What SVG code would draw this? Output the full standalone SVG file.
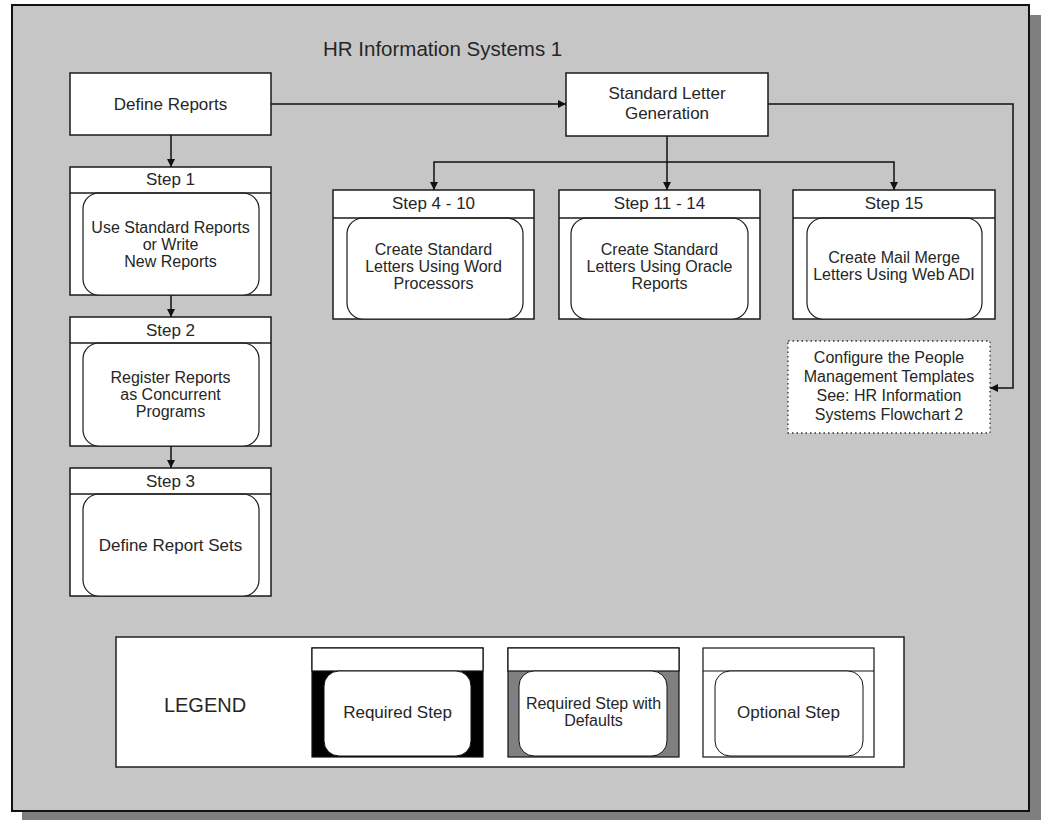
<svg xmlns="http://www.w3.org/2000/svg" width="1041" height="820" viewBox="0 0 1041 820">
<style>
text{font-family:"Liberation Sans",Arial,sans-serif;fill:#262626;text-anchor:middle;font-size:17px}
.box{fill:#fff;stroke:#1a1a1a;stroke-width:1.5}
.inner{fill:#fff;stroke:#1a1a1a;stroke-width:1.2}
.hdr{stroke:#1a1a1a;stroke-width:1.5}
.conn{fill:none;stroke:#111;stroke-width:1.5}
.dot{fill:#fff;stroke:#333;stroke-width:1.3;stroke-dasharray:1.5 3}
.sm{font-size:16px}
.ml{font-size:16px}
</style>
<defs>
<marker id="arr" viewBox="0 0 10 10" refX="10" refY="5" markerWidth="8" markerHeight="8" markerUnits="userSpaceOnUse" orient="auto">
<path d="M0,0 L10,5 L0,10 z" fill="#111"/>
</marker>
</defs>
<rect width="1041" height="820" fill="#fff"/>
<rect x="22" y="15" width="1022" height="810" fill="#7f7f7f"/>
<rect x="12" y="5" width="1017" height="806" fill="#c6c6c6" stroke="#111" stroke-width="2"/>
<text x="323" y="56" style="text-anchor:start;font-size:20.5px">HR Information Systems 1</text>

<g id="connectors">
<path class="conn" d="M171,135 V167" marker-end="url(#arr)"/>
<path class="conn" d="M171,295 V317" marker-end="url(#arr)"/>
<path class="conn" d="M171,446 V468" marker-end="url(#arr)"/>
<path class="conn" d="M271,104 H566" marker-end="url(#arr)"/>
<path class="conn" d="M667,136 V190" marker-end="url(#arr)"/>
<path class="conn" d="M667,162 H434 V190" marker-end="url(#arr)"/>
<path class="conn" d="M667,162 H894 V190" marker-end="url(#arr)"/>
<path class="conn" d="M768,104 H1013 V388 H990" marker-end="url(#arr)"/>
</g>

<g id="define-reports">
<rect class="box" x="70" y="73" width="201" height="62"/>
<text x="170.5" y="110">Define Reports</text>
</g>

<g id="step1">
<rect class="box" x="70" y="167" width="201" height="128"/>
<rect class="inner" x="83" y="193" width="176" height="102" rx="16"/>
<line class="hdr" x1="70" y1="193" x2="271" y2="193"/>
<text x="170.5" y="185">Step 1</text>
<text class="ml" x="170.5" y="232.5">Use Standard Reports</text>
<text class="ml" x="170.5" y="249.5">or Write</text>
<text class="ml" x="170.5" y="266.5">New Reports</text>
</g>

<g id="step2">
<rect class="box" x="70" y="317" width="201" height="129"/>
<rect class="inner" x="83" y="343" width="176" height="103" rx="16"/>
<line class="hdr" x1="70" y1="343" x2="271" y2="343"/>
<text x="170.5" y="336">Step 2</text>
<text class="ml" x="170.5" y="382.5">Register Reports</text>
<text class="ml" x="170.5" y="399.5">as Concurrent</text>
<text class="ml" x="170.5" y="416.5">Programs</text>
</g>

<g id="step3">
<rect class="box" x="70" y="468" width="201" height="128"/>
<rect class="inner" x="83" y="494" width="176" height="102" rx="16"/>
<line class="hdr" x1="70" y1="494" x2="271" y2="494"/>
<text x="170.5" y="487">Step 3</text>
<text x="170.5" y="551">Define Report Sets</text>
</g>

<g id="standard-letter-generation">
<rect class="box" x="566" y="73" width="202" height="63"/>
<text x="667" y="98.5">Standard Letter</text>
<text x="667" y="119">Generation</text>
</g>

<g id="step4-10">
<rect class="box" x="333" y="190" width="201" height="129"/>
<rect class="inner" x="347" y="218" width="176" height="101" rx="16"/>
<line class="hdr" x1="333" y1="218" x2="534" y2="218"/>
<text x="433.5" y="209">Step 4 - 10</text>
<text class="ml" x="433.5" y="254.5">Create Standard</text>
<text class="ml" x="433.5" y="271.5">Letters Using Word</text>
<text class="ml" x="433.5" y="288.5">Processors</text>
</g>

<g id="step11-14">
<rect class="box" x="559" y="190" width="201" height="129"/>
<rect class="inner" x="571" y="218" width="177" height="101" rx="16"/>
<line class="hdr" x1="559" y1="218" x2="760" y2="218"/>
<text x="659.5" y="209">Step 11 - 14</text>
<text class="ml" x="659.5" y="254.5">Create Standard</text>
<text class="ml" x="659.5" y="271.5">Letters Using Oracle</text>
<text class="ml" x="659.5" y="288.5">Reports</text>
</g>

<g id="step15">
<rect class="box" x="793" y="190" width="202" height="129"/>
<rect class="inner" x="807" y="218" width="175" height="101" rx="16"/>
<line class="hdr" x1="793" y1="218" x2="995" y2="218"/>
<text x="894" y="209">Step 15</text>
<text class="ml" x="894" y="263">Create Mail Merge</text>
<text class="ml" x="894" y="280">Letters Using Web ADI</text>
</g>

<g id="people-management">
<rect class="dot" x="788" y="341" width="202" height="92"/>
<text class="sm" x="889" y="363">Configure the People</text>
<text class="sm" x="889" y="382">Management Templates</text>
<text class="sm" x="889" y="401">See: HR Information</text>
<text class="sm" x="889" y="420">Systems Flowchart 2</text>
</g>

<g id="legend">
<rect x="116" y="637" width="788" height="130" fill="#fff" stroke="#222" stroke-width="1.5"/>
<text x="205" y="712" style="font-size:20px">LEGEND</text>
<g id="legend-required">
<rect x="312" y="648" width="171" height="109" fill="#000" stroke="#111" stroke-width="1.2"/>
<rect x="312" y="648" width="171" height="23" fill="#fff" stroke="#111" stroke-width="1.2"/>
<rect x="324" y="671" width="147" height="85" rx="15" fill="#fff" stroke="#111" stroke-width="1"/>
<text x="397.5" y="718">Required Step</text>
</g>
<g id="legend-defaults">
<rect x="508" y="648" width="171" height="109" fill="#808080" stroke="#111" stroke-width="1.2"/>
<rect x="508" y="648" width="171" height="23" fill="#fff" stroke="#111" stroke-width="1.2"/>
<rect x="519" y="671" width="148" height="85" rx="15" fill="#fff" stroke="#111" stroke-width="1"/>
<text class="ml" x="593.5" y="709">Required Step with</text>
<text class="ml" x="593.5" y="726">Defaults</text>
</g>
<g id="legend-optional">
<rect x="703" y="648" width="171" height="109" fill="#fff" stroke="#111" stroke-width="1.2"/>
<line x1="703" y1="671" x2="874" y2="671" stroke="#111" stroke-width="1.2"/>
<rect x="715" y="671" width="148" height="85" rx="15" fill="#fff" stroke="#111" stroke-width="1"/>
<text x="788.5" y="718">Optional Step</text>
</g>
</g>
</svg>
